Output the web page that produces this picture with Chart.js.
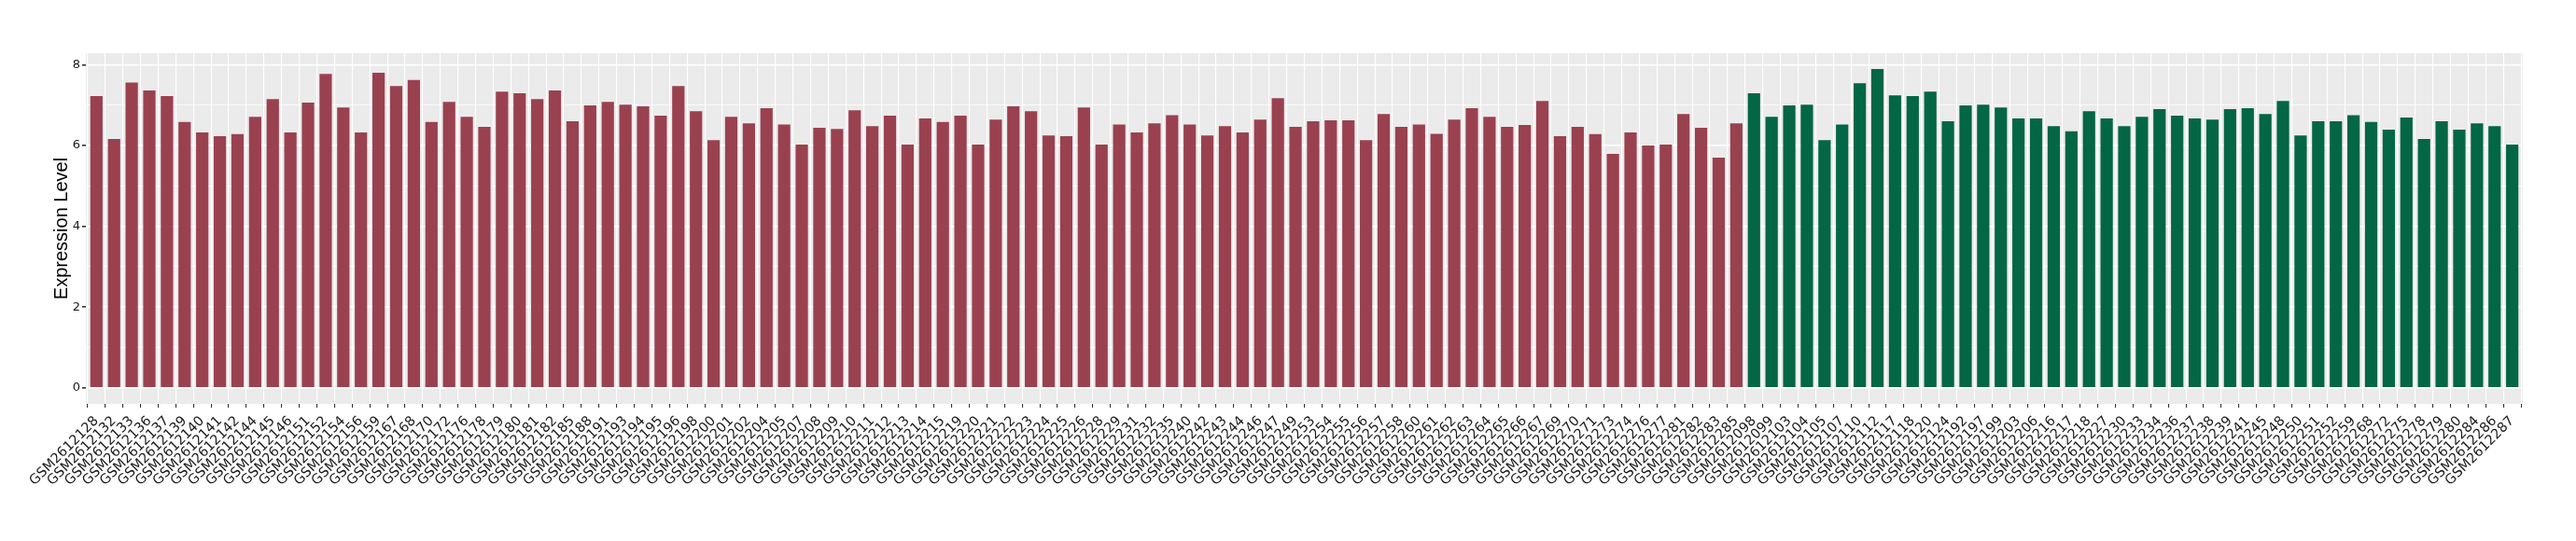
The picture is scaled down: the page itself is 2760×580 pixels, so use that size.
<!DOCTYPE html>
<html>
<head>
<meta charset="utf-8">
<script src="https://cdn.jsdelivr.net/npm/chart.js@4.4.1/dist/chart.umd.min.js"></script>
<style>
  html, body { margin: 0; background: #fff; }
  #wrap { width: 2760px; height: 580px; }
</style>
</head>
<body>
<div id="wrap"><canvas id="chartExpression" width="2760" height="580"></canvas></div>
<script>
// sample groups
var groupASamples = [
  'GSM2612128','GSM2612132','GSM2612133','GSM2612136','GSM2612137','GSM2612139','GSM2612140','GSM2612141','GSM2612142','GSM2612144',
  'GSM2612145','GSM2612146','GSM2612151','GSM2612152','GSM2612154','GSM2612156','GSM2612159','GSM2612167','GSM2612168','GSM2612170',
  'GSM2612172','GSM2612176','GSM2612178','GSM2612179','GSM2612180','GSM2612181','GSM2612182','GSM2612185','GSM2612188','GSM2612191',
  'GSM2612193','GSM2612194','GSM2612195','GSM2612196','GSM2612198','GSM2612200','GSM2612201','GSM2612202','GSM2612204','GSM2612205',
  'GSM2612207','GSM2612208','GSM2612209','GSM2612210','GSM2612211','GSM2612212','GSM2612213','GSM2612214','GSM2612215','GSM2612219',
  'GSM2612220','GSM2612221','GSM2612222','GSM2612223','GSM2612224','GSM2612225','GSM2612226','GSM2612228','GSM2612229','GSM2612231',
  'GSM2612232','GSM2612235','GSM2612240','GSM2612242','GSM2612243','GSM2612244','GSM2612246','GSM2612247','GSM2612249','GSM2612253',
  'GSM2612254','GSM2612255','GSM2612256','GSM2612257','GSM2612258','GSM2612260','GSM2612261','GSM2612262','GSM2612263','GSM2612264',
  'GSM2612265','GSM2612266','GSM2612267','GSM2612269','GSM2612270','GSM2612271','GSM2612273','GSM2612274','GSM2612276','GSM2612277',
  'GSM2612281','GSM2612282','GSM2612283','GSM2612285'
];
var groupAValues = [
  7.22, 6.16, 7.56, 7.36, 7.22, 6.58, 6.32, 6.23, 6.28, 6.71,
  7.15, 6.32, 7.06, 7.77, 6.94, 6.32, 7.80, 7.47, 7.62, 6.58,
  7.08, 6.71, 6.46, 7.33, 7.29, 7.15, 7.36, 6.60, 6.99, 7.08,
  7.01, 6.97, 6.74, 7.47, 6.85, 6.13, 6.71, 6.55, 6.92, 6.52,
  6.02, 6.44, 6.41, 6.87, 6.48, 6.74, 6.02, 6.67, 6.58, 6.74,
  6.02, 6.64, 6.97, 6.85, 6.25, 6.23, 6.94, 6.02, 6.52, 6.32,
  6.55, 6.75, 6.52, 6.25, 6.48, 6.32, 6.64, 7.17, 6.46, 6.60,
  6.62, 6.62, 6.13, 6.78, 6.46, 6.52, 6.29, 6.64, 6.92, 6.71,
  6.46, 6.51, 7.10, 6.23, 6.46, 6.28, 5.79, 6.32, 6.00, 6.02,
  6.78, 6.44, 5.70, 6.55
];
var groupBSamples = [
  'GSM2612098','GSM2612099','GSM2612103','GSM2612104','GSM2612105','GSM2612107','GSM2612110','GSM2612112','GSM2612117','GSM2612118',
  'GSM2612120','GSM2612124','GSM2612192','GSM2612197','GSM2612199','GSM2612203','GSM2612206','GSM2612216','GSM2612217','GSM2612218',
  'GSM2612227','GSM2612230','GSM2612233','GSM2612234','GSM2612236','GSM2612237','GSM2612238','GSM2612239','GSM2612241','GSM2612245',
  'GSM2612248','GSM2612250','GSM2612251','GSM2612252','GSM2612259','GSM2612268','GSM2612272','GSM2612275','GSM2612278','GSM2612279',
  'GSM2612280','GSM2612284','GSM2612286','GSM2612287'
];
var groupBValues = [
  7.29, 6.71, 6.99, 7.01, 6.13, 6.52, 7.54, 7.89, 7.24, 7.22,
  7.33, 6.60, 6.99, 7.01, 6.94, 6.67, 6.67, 6.48, 6.35, 6.85,
  6.67, 6.48, 6.71, 6.90, 6.74, 6.67, 6.64, 6.90, 6.92, 6.78,
  7.10, 6.25, 6.60, 6.60, 6.75, 6.58, 6.39, 6.69, 6.16, 6.60,
  6.39, 6.55, 6.48, 6.02
];
var yTickValues = [0, 2, 4, 6, 8];
var yGridValues = [0, 1, 2, 3, 4, 5, 6, 7, 8];

var allSamples = groupASamples.concat(groupBSamples);

function toPoints(values, start) {
  return values.map(function (v, i) { return { x: start + i, y: v }; });
}

// grey ggplot-like panel behind the grid
var panelBg = {
  id: 'panelBg',
  beforeDraw: function (chart) {
    var a = chart.chartArea, ctx = chart.ctx;
    ctx.save();
    ctx.fillStyle = '#EBEBEB';
    ctx.fillRect(a.left, a.top, a.right - a.left, a.bottom - a.top);
    ctx.restore();
  }
};

var yMax = 7.89;
var yPad = yMax * 0.05;

new Chart(document.getElementById('chartExpression'), {
  type: 'bar',
  data: {
    datasets: [{
      data: toPoints(groupAValues, 0),
      backgroundColor: '#9A4150'
    }, {
      data: toPoints(groupBValues, groupASamples.length),
      backgroundColor: '#036645'
    }]
  },
  options: {
    responsive: false,
    animation: false,
    layout: { padding: { top: 57, right: 57, bottom: 0, left: 0 } },
    datasets: { bar: { grouped: false, barPercentage: 0.7, categoryPercentage: 1 } },
    plugins: { legend: { display: false }, tooltip: { enabled: false } },
    scales: {
      x: {
        type: 'linear',
        min: -0.6,
        max: allSamples.length - 1 + 0.6,
        offset: false,
        afterBuildTicks: function (s) {
          s.ticks = allSamples.map(function (_, i) { return { value: i }; });
        },
        afterFit: function (s) { s.height = 147; },
        border: { display: false },
        grid: { color: '#FFFFFF', lineWidth: 1.1, tickLength: 4, tickColor: '#333333' },
        ticks: {
          autoSkip: false,
          minRotation: 45,
          maxRotation: 45,
          padding: 6,
          color: '#1A1A1A',
          font: { family: 'DejaVu Sans, sans-serif', size: 14.5 },
          callback: function (v) { return allSamples[v]; }
        }
      },
      y: {
        min: -yPad,
        max: yMax + yPad,
        afterBuildTicks: function (s) {
          s.ticks = yGridValues.map(function (v) { return { value: v }; });
        },
        afterFit: function (s) { s.width = 92; },
        border: { display: false },
        grid: {
          color: '#FFFFFF',
          lineWidth: function (c) { return c.tick && c.tick.value % 2 === 0 ? 1.6 : 0.8; },
          tickLength: 4,
          tickColor: function (c) { return c.tick && c.tick.value % 2 === 0 ? '#333333' : 'rgba(0,0,0,0)'; }
        },
        ticks: {
          padding: 2,
          color: '#1A1A1A',
          font: { family: 'DejaVu Sans, sans-serif', size: 13 },
          callback: function (v) { return yTickValues.indexOf(v) >= 0 ? String(v) : ''; }
        },
        title: {
          display: true,
          text: 'Expression Level',
          color: '#000000',
          padding: { top: 54, bottom: 0 },
          font: { family: 'Liberation Sans, Arial, sans-serif', size: 20, lineHeight: 1.2 }
        }
      }
    }
  },
  plugins: [panelBg]
});
</script>
</body>
</html>
